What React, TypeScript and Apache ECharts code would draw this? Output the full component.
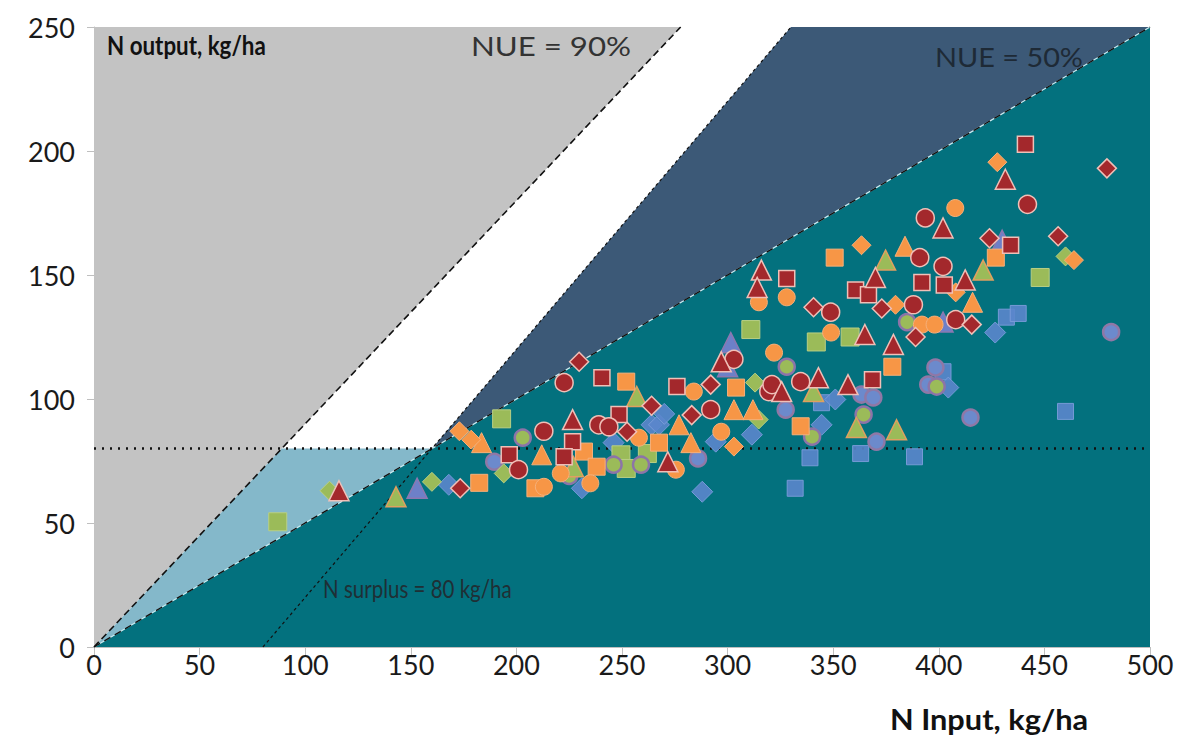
import React, { useEffect, useRef } from "react";
import * as echarts from "echarts";

// Axis ranges and ticks
const X_MAX = 500;
const Y_MAX = 250;
const TICK = 50;

// Reference lines
const NUE_HIGH = 0.9;
const NUE_LOW = 0.5;
const SURPLUS = 80;

// Derived region vertices (data coordinates)
const crossHigh = SURPLUS / NUE_HIGH;
const crossLow = SURPLUS / (1 - NUE_LOW);
const topHigh = Y_MAX / NUE_HIGH;
const topSurplus = Y_MAX + SURPLUS;
const endLow = Y_MAX / NUE_LOW;

const grayRegion = [[0, 0], [0, Y_MAX], [topHigh, Y_MAX]];
const lightBlueRegion = [[0, 0], [crossHigh, SURPLUS], [crossLow, SURPLUS]];
const navyRegion = [[crossLow, SURPLUS], [topSurplus, Y_MAX], [endLow, Y_MAX]];
const tealRegion = [[0, 0], [X_MAX, 0], [endLow, Y_MAX]];

// Scatter data: [N input, N output]
const redCircles = [[222.6, 106.6], [303, 116], [213, 87], [239, 89.6], [243.8, 88.8], [201, 71.5], [292, 95.7], [319.5, 103], [321, 105.8], [334.6, 107], [348.8, 135], [391, 157], [388, 138], [393.6, 173], [402, 153.5], [408, 132], [442, 178.5]];
const redSquares = [[240.5, 108.6], [276, 105], [248.6, 93.7], [226.6, 82.8], [222.6, 76.7], [196.6, 77.5], [328, 148.6], [360.6, 144], [366.7, 142], [392, 147], [368.6, 107.8], [441, 202.7], [434, 162], [402.6, 146]];
const redTriangles = [[116, 63], [226.6, 91.7], [297, 115], [271.7, 74.7], [316, 152], [314, 145], [370, 149], [365, 126], [378.5, 122], [325.6, 103], [343, 108.6], [357, 105.8], [431.5, 188.6], [402, 169], [412.5, 148]];
const redDiamonds = [[229.7, 115], [173.4, 64], [264, 97.3], [252.4, 86.8], [283, 93.5], [292, 105.8], [340.7, 137], [373, 136.5], [389, 125], [424, 164.8], [456.5, 165.6], [479.6, 193], [415.6, 130]];

const orangeCircles = [[213, 64.6], [221, 70], [235, 66], [284, 103], [258, 84.4], [297, 86.8], [275.5, 71.5], [314.8, 139], [328, 141], [349, 126.8], [322, 118.7], [392, 130], [407.8, 177], [398, 130]];
const orangeSquares = [[182.4, 66.2], [209, 64], [232, 78.8], [238, 72.7], [252, 107], [267.5, 82.4], [304, 104.6], [350.7, 157], [334.6, 89], [378, 113], [427, 157]];
const orangeTriangles = [[183.5, 82.4], [212, 77.5], [277, 89.6], [282.6, 82.4], [303, 95.7], [312, 95.7], [384, 161.6], [416, 139]];
const orangeDiamonds = [[173, 87], [178.6, 83.6], [303, 80.8], [363.4, 162], [379.5, 138], [427.7, 195.5], [408, 143], [464, 156]];

const greenSquares = [[87, 50.5], [193, 92], [311, 128], [342, 123], [358, 125], [448, 149], [249.5, 77.5], [262, 78], [252, 72]];
const greenCircles = [[203, 84.4], [246, 73.5], [259, 73.5], [340, 84.8], [364.4, 93.7], [399, 105], [385, 131], [328, 113], [225, 69]];
const greenTriangles = [[143, 60.6], [257, 101], [340.7, 103], [361, 88.5], [380, 87.6], [374.8, 156], [421, 152], [227, 72.7]];
const greenDiamonds = [[111.5, 63], [160, 66.6], [194, 70], [313, 106.6], [314.7, 91.7], [460, 157.5]];

const blueSquares = [[339, 76.3], [363, 78], [388.5, 76.7], [332, 64], [344.5, 98.5], [432, 133], [437.6, 134.5], [402, 111], [460, 95]];
const blueDiamonds = [[168, 65.4], [264, 89.6], [267.5, 89.6], [270, 94], [246, 82.4], [231, 64], [288, 62.6], [311.5, 85.6], [294.4, 82.8], [344.5, 89.6], [351, 99.8], [426.7, 126.8], [404.5, 104.6]];
const blueTriangles = [[153, 64], [301.5, 122.7], [300, 113], [402, 131], [430, 164]];
const purpleCircles = [[189.5, 74.7], [327.5, 95.7], [363.4, 101.8], [369, 100.6], [370.5, 82.8], [398.4, 112.7], [395, 105.8], [415, 92.5], [481.6, 127], [286, 76]];

const FONT = "Lato, 'DejaVu Sans', sans-serif";

function region(name: string, pts: number[][], fill: string) {
  return {
    name,
    type: "custom",
    z: 1,
    silent: true,
    data: [[0, 0]],
    renderItem: (_p: any, api: any) => ({
      type: "polygon",
      shape: { points: pts.map((v) => api.coord(v)) },
      style: { fill, stroke: null },
    }),
  };
}

function refLine(name: string, pts: number[][], color: string, width: number, dash: any, z = 3) {
  return {
    name,
    type: "line",
    data: pts,
    symbol: "none",
    silent: true,
    z,
    lineStyle: { color, width, type: dash },
  };
}

function scatter(name: string, data: number[][], symbol: string, size: number, fill: string, border: string, bw: number, z: number, opacity = 1) {
  return {
    name,
    type: "scatter",
    data,
    symbol,
    symbolSize: size,
    z,
    itemStyle: { color: fill, borderColor: border, borderWidth: bw, opacity },
  };
}

function label(text: string, x: number, y: number, font: string, fill: string, scaleX: number) {
  return {
    type: "text",
    x,
    y,
    scaleX,
    z: 100,
    silent: true,
    style: { text, font, fill, verticalAlign: "middle", align: "left" },
  };
}

export default function App() {
  const ref = useRef<HTMLDivElement>(null);
  useEffect(() => {
    if (!ref.current) return;
    const chart = echarts.init(ref.current, null, { renderer: "svg" });
    const RED = "#A3282C", RED_B = "#F0C0B8";
    const OR = "#F79646", OR_B = "#F6B07A";
    const GR = "#9BBB59", GR_B = "#B9CF85";
    const BL = "#5B86CC", BL_B = "#7C9DDA";
    chart.setOption({
      animation: false,
      backgroundColor: "#ffffff",
      grid: { left: 94, right: 31, top: 27, bottom: 106, containLabel: false },
      xAxis: {
        type: "value",
        min: 0,
        max: X_MAX,
        interval: TICK,
        splitLine: { show: false },
        axisLine: { show: true, lineStyle: { color: "#BFBFBF", width: 1 } },
        axisTick: { show: true, length: 8, lineStyle: { color: "#BFBFBF" } },
        axisLabel: { fontFamily: FONT, fontSize: 27, color: "#1a1a1a", margin: 4 },
      },
      yAxis: {
        type: "value",
        min: 0,
        max: Y_MAX,
        interval: TICK,
        splitLine: { show: false },
        axisLine: { show: true, lineStyle: { color: "#BFBFBF", width: 1 } },
        axisTick: { show: true, length: 7, lineStyle: { color: "#BFBFBF" } },
        axisLabel: { fontFamily: FONT, fontSize: 27, color: "#1a1a1a", margin: 19 },
      },
      graphic: [
        label("N output, kg/ha", 107, 45, `bold 26px ${FONT}`, "#111", 0.86),
        label("NUE = 90%", 471, 46, `26px ${FONT}`, "#333", 1.2),
        label("NUE = 50%", 935, 57, `26px ${FONT}`, "#1e2a36", 1.11),
        label("N surplus = 80 kg/ha", 323, 588, `25px ${FONT}`, "#1f2f35", 0.82),
        label("N Input, kg/ha", 890, 719, `bold 29px ${FONT}`, "#111", 1.06),
      ],
      series: [
        region("gray", grayRegion, "#C3C3C3"),
        region("lightblue", lightBlueRegion, "#84B8CA"),
        region("navy", navyRegion, "#3C5977"),
        region("teal", tealRegion, "#03717E"),
        refLine("nue50-edge", [[0, 0], [endLow, Y_MAX]], "#CDEBF0", 1.2, "solid", 3),
        refLine("nue90", [[0, 0], [topHigh, Y_MAX]], "#111", 1.6, [7, 4], 4),
        refLine("nue50", [[0, 0], [endLow, Y_MAX]], "#111", 1.4, [7, 5], 4),
        refLine("surplus", [[SURPLUS, 0], [topSurplus, Y_MAX]], "#111", 1.2, [3, 3], 4),
        refLine("y80", [[0, SURPLUS], [X_MAX, SURPLUS]], "#111", 2.5, [2, 6], 4),
        scatter("blueSq", blueSquares, "rect", 16, BL, BL_B, 1, 5, 0.9),
        scatter("blueDi", blueDiamonds, "diamond", 21, BL, BL_B, 1, 5, 0.9),
        scatter("blueTri", blueTriangles, "triangle", 20, "#6D80C8", "#8C78B0", 1.5, 5),
        scatter("purpleCi", purpleCircles, "circle", 16, "#6C8ACC", "#8F78A6", 2.5, 6),
        scatter("greenSq", greenSquares, "rect", 18, GR, GR_B, 1, 7),
        scatter("greenCi", greenCircles, "circle", 16, GR, "#8C74A8", 2.5, 7),
        scatter("greenTri", greenTriangles, "triangle", 20, GR, "#E0A060", 1.5, 7),
        scatter("greenDi", greenDiamonds, "diamond", 19, GR, GR_B, 1, 7),
        scatter("orangeSq", orangeSquares, "rect", 17, OR, OR_B, 1, 8),
        scatter("orangeCi", orangeCircles, "circle", 17, OR, OR_B, 1, 8),
        scatter("orangeTri", orangeTriangles, "triangle", 20, OR, OR_B, 1, 8),
        scatter("orangeDi", orangeDiamonds, "diamond", 19, OR, OR_B, 1, 8),
        scatter("redSq", redSquares, "rect", 16, RED, RED_B, 1.5, 9),
        scatter("redCi", redCircles, "circle", 18, RED, RED_B, 1.5, 9),
        scatter("redTri", redTriangles, "triangle", 20, RED, RED_B, 1.5, 9),
        scatter("redDi", redDiamonds, "diamond", 19, RED, RED_B, 1.5, 9),
      ],
    });
    return () => chart.dispose();
  }, []);
  return <div ref={ref} style={{ width: 1181, height: 753, position: "absolute", left: 0, top: 0 }} />;
}
